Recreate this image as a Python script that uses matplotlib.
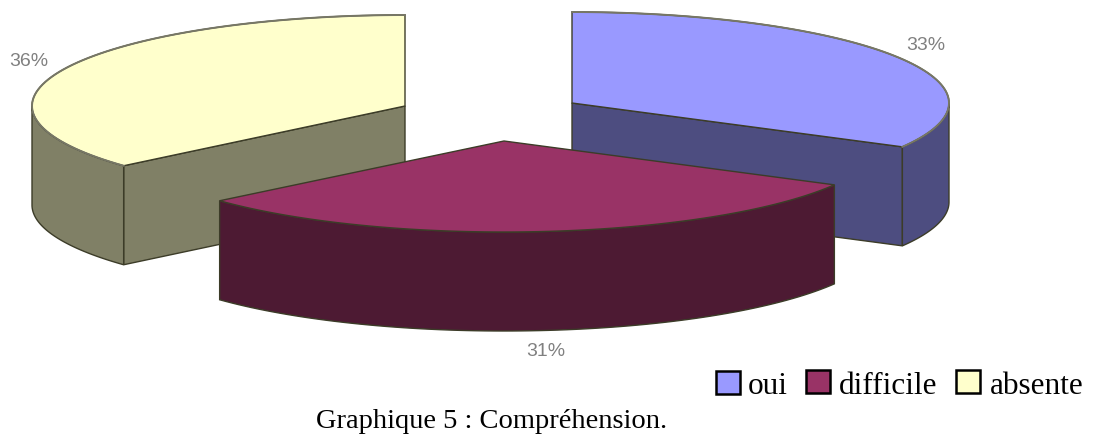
import numpy as np
import matplotlib
matplotlib.use("Agg")
import matplotlib.pyplot as plt
from matplotlib.patches import Polygon, Rectangle

labels = ["oui", "difficile", "absente"]
shares = [33, 30.6, 36.4]
pct_labels = ["33%", "31%", "36%"]
top_colors = ["#9999ff", "#993366", "#ffffcc"]
side_colors = ["#4d4d80", "#4d1a33", "#808066"]

# pixel layout of the exploded slices
centers = {"oui": (572, 103), "difficile": (504, 141), "absente": (405, 106)}
radii = {"oui": 377, "difficile": 377, "absente": 373}
ry, depth = 91, 99
line_col = "#3c3c28"
rim_col = "#777766"


def rim(name, a0, a1, drop=0):
    # angles clockwise from the top, in degrees
    c = centers[name]
    t = np.radians(np.linspace(a0, a1, 80))
    return np.column_stack([c[0] + radii[name] * np.sin(t), c[1] - ry * np.cos(t) + drop])


def draw_slice(ax, name, a0, a1, top, side):
    c = centers[name]
    # radial faces that look towards the viewer
    for a in (a0, a1):
        p = rim(name, a, a)[0]
        if (a == a1 and a < 180) or (a == a0 and a > 180):
            poly = [c, p, (p[0], p[1] + depth), (c[0], c[1] + depth)]
            ax.add_patch(Polygon(poly, fc=side, ec=line_col, lw=1))
    # outer wall, only the front half of the ellipse
    w0, w1 = max(a0, 90), min(a1, 270)
    if w1 > w0:
        upper = rim(name, w0, w1)
        lower = rim(name, w0, w1, depth)[::-1]
        ax.add_patch(Polygon(np.vstack([upper, lower]), fc=side, ec=line_col, lw=1))
    # top face
    ax.add_patch(Polygon(np.vstack([[c], rim(name, a0, a1)]), fc=top, ec=line_col, lw=1))
    if name != "difficile":
        ax.plot(*rim(name, a0, a1).T, color=rim_col, lw=1.4)


fig = plt.figure(figsize=(10.96, 4.34), dpi=100)
ax = fig.add_axes([0, 0, 1, 1])
ax.set_xlim(0, 1096)
ax.set_ylim(434, 0)
ax.axis("off")

edges = np.cumsum([0] + shares) * 3.6
for i in [2, 0, 1]:
    draw_slice(ax, labels[i], edges[i], edges[i + 1], top_colors[i], side_colors[i])

pct_pos = [(926, 46), (546, 352), (29, 61)]
for s, (x, y) in zip(pct_labels, pct_pos):
    ax.text(x, y, s, family="Liberation Sans", fontsize=14, color="#808080",
            ha="center", va="center")

leg_boxes = [716, 806, 956]
leg_text = [748, 839, 990]
leg_y = [371, 370, 370]
for i in range(3):
    ax.add_patch(Rectangle((leg_boxes[i], leg_y[i]), 24, 23, fc=top_colors[i], ec="black", lw=1.8))
    ax.text(leg_text[i], 386, labels[i], family="Liberation Serif", fontsize=22.5,
            color="black", va="center")

ax.text(316, 421, "Graphique 5 : Compréhension.", family="Liberation Serif", fontsize=20.5,
        color="black", va="center")

fig.savefig("out.png", dpi=100)
